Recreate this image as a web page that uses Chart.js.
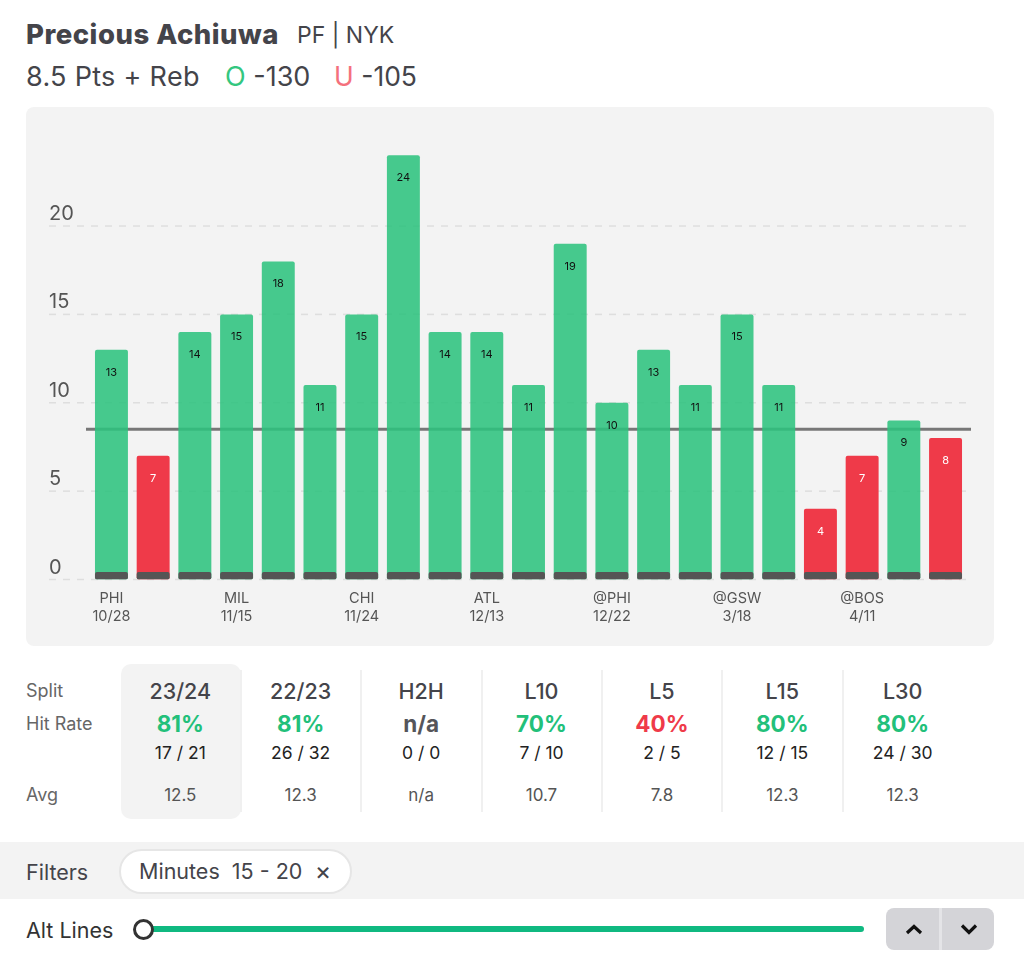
<!DOCTYPE html>
<html>
<head>
<meta charset="utf-8">
<script src="https://cdn.jsdelivr.net/npm/chart.js@4"></script>
<style>
  html, body { margin: 0; padding: 0; background: #fff; }
  body { position: relative; width: 1024px; height: 957px; overflow: hidden; font-family: Inter, sans-serif; color: #44444a; }
  .txt { position: absolute; white-space: pre; line-height: 1; transform: translateY(-50%); }
  .ctr { transform: translate(-50%, -50%); }
  .box { position: absolute; box-sizing: border-box; }
  #panel { left: 26px; top: 107px; width: 968px; height: 539px; background: #f3f3f3; border-radius: 8px; }
  #chartWrap { position: absolute; left: 0; top: 0; width: 968px; height: 539px; }
</style>
</head>
<body>
<div class="txt" style="left:26px;top:34.5px;font-size:27.5px;font-weight:800;letter-spacing:0.5px;">Precious Achiuwa</div>
<div class="txt" style="left:297px;top:35px;font-size:23px;">PF | NYK</div>
<div class="txt" style="left:26px;top:76px;font-size:27px;letter-spacing:0.3px;">8.5 Pts + Reb</div>
<div class="txt" style="left:225px;top:76px;font-size:27px;"><span style="color:#34c77f">O</span> -130</div>
<div class="txt" style="left:334px;top:76px;font-size:26.5px;"><span style="color:#f4707c">U</span> -105</div>

<div class="box" id="panel">
  <div id="chartWrap"><canvas id="propChart"></canvas></div>
</div>

<div class="box" style="left:121px;top:664px;width:120px;height:155px;background:#f3f3f3;border-radius:10px;"></div>
<div class="txt" style="left:26px;top:691px;font-size:18px;color:#666;">Split</div>
<div class="txt" style="left:26px;top:724px;font-size:18px;color:#666;">Hit Rate</div>
<div class="txt" style="left:26px;top:795px;font-size:18px;color:#666;">Avg</div>
<div id="splits"></div>

<div class="box" style="left:0;top:842px;width:1024px;height:57px;background:#f3f3f3;"></div>
<div class="txt" style="left:26px;top:873px;font-size:21.5px;">Filters</div>
<div class="box" style="left:119px;top:849px;width:233px;height:45px;background:#fff;border:2px solid #e6e6e6;border-radius:23px;"></div>
<div class="txt" style="left:139px;top:872px;font-size:21.5px;">Minutes  15 - 20</div>
<div class="txt ctr" style="left:323px;top:871px;font-size:25px;">×</div>

<div class="txt" style="left:26px;top:931px;font-size:21.5px;color:#333;">Alt Lines</div>
<div class="box" style="left:150px;top:926px;width:714px;height:6px;background:#10b981;border-radius:3px;"></div>
<div class="box" style="left:133px;top:919px;width:21px;height:21px;background:#fff;border:3.5px solid #333;border-radius:50%;"></div>
<div class="box" style="left:886px;top:908px;width:108px;height:42px;background:#d4d4d8;border-radius:8px;"></div>
<div class="box" style="left:939px;top:908px;width:3px;height:42px;background:#e4e4e7;"></div>
<svg class="box" style="left:886px;top:908px;" width="108" height="42" fill="none" stroke="#111" stroke-width="3.2">
  <path d="M21 25 L28 18.5 L35 25"/>
  <path d="M76 17.5 L83 24.5 L90 17.5"/>
</svg>

<script>
const categories = [
  ['PHI', '10/28'], '', '', ['MIL', '11/15'], '', '', ['CHI', '11/24'], '', '', ['ATL', '12/13'], '', '',
  ['@PHI', '12/22'], '', '', ['@GSW', '3/18'], '', '', ['@BOS', '4/11'], '', ''
];
const gameValues = [13, 7, 14, 15, 18, 11, 15, 24, 14, 14, 11, 19, 10, 13, 11, 15, 11, 4, 7, 9, 8];
const minuteBase = [0.42, 0.42, 0.42, 0.42, 0.42, 0.42, 0.42, 0.42, 0.42, 0.42, 0.42, 0.42, 0.42, 0.42, 0.42, 0.42, 0.42, 0.42, 0.42, 0.42, 0.42];
const propLine = 8.5;
const yTicks = [0, 5, 10, 15, 20];

const splitNames = ['23/24', '22/23', 'H2H', 'L10', 'L5', 'L15', 'L30'];
const splitRates = ['81%', '81%', 'n/a', '70%', '40%', '80%', '80%'];
const splitCounts = ['17 / 21', '26 / 32', '0 / 0', '7 / 10', '2 / 5', '12 / 15', '24 / 30'];
const splitAvgs = ['12.5', '12.3', 'n/a', '10.7', '7.8', '12.3', '12.3'];

const GREEN = 'rgba(45, 195, 126, 0.88)';
const RED = 'rgb(239, 58, 73)';

// stats table under the chart
const splitsEl = document.getElementById('splits');
function addText(x, y, size, weight, color, text) {
  const el = document.createElement('div');
  el.className = 'txt ctr';
  el.style.cssText = `left:${x}px;top:${y}px;font-size:${size}px;font-weight:${weight};color:${color};`;
  el.textContent = text;
  splitsEl.appendChild(el);
}
splitNames.forEach((name, i) => {
  const x = 180.3 + i * 120.4;
  const rate = splitRates[i];
  let rateColor = '#55555a';
  if (rate !== 'n/a') rateColor = parseInt(rate) >= 50 ? '#22c07a' : '#ef3a49';
  addText(x, 692, 21.5, 500, '#44444a', name);
  addText(x, 724, 22.5, 700, rateColor, rate);
  addText(x, 753, 17.5, 400, '#222', splitCounts[i]);
  addText(x, 795, 17, 400, '#555', splitAvgs[i]);
  if (i < splitNames.length - 1) {
    const div = document.createElement('div');
    div.className = 'box';
    div.style.cssText = `left:${x + 59.5}px;top:670px;width:2px;height:142px;background:#f0f0f0;`;
    splitsEl.appendChild(div);
  }
});

// dashed grid and the prop line go under the translucent bars
const underlayPlugin = {
  id: 'underlay',
  beforeDatasetsDraw(chart) {
    const { ctx, scales: { y } } = chart;
    const left = 23;
    const right = 945;
    ctx.save();
    ctx.strokeStyle = '#dedede';
    ctx.lineWidth = 1.5;
    ctx.setLineDash([7, 7]);
    yTicks.forEach(t => {
      const py = y.getPixelForValue(t);
      ctx.beginPath();
      ctx.moveTo(left, py);
      ctx.lineTo(right, py);
      ctx.stroke();
    });
    ctx.setLineDash([]);
    ctx.strokeStyle = '#777';
    ctx.lineWidth = 3;
    const lineY = y.getPixelForValue(propLine);
    ctx.beginPath();
    ctx.moveTo(60, lineY);
    ctx.lineTo(right, lineY);
    ctx.stroke();
    ctx.restore();
  }
};

// value inside each bar, just under its top
const valueLabelPlugin = {
  id: 'valueLabels',
  afterDatasetsDraw(chart) {
    const { ctx } = chart;
    const bars = chart.getDatasetMeta(0).data;
    ctx.save();
    ctx.font = '11px Inter, sans-serif';
    ctx.textAlign = 'center';
    ctx.textBaseline = 'middle';
    bars.forEach((bar, i) => {
      ctx.fillStyle = gameValues[i] > propLine ? '#111' : '#fff';
      ctx.fillText(gameValues[i], bar.x, bar.y + 22.5);
    });
    ctx.restore();
  }
};

new Chart(document.getElementById('propChart').getContext('2d'), {
  type: 'bar',
  data: {
    labels: categories,
    datasets: [
      {
        data: gameValues,
        backgroundColor: gameValues.map(v => (v > propLine ? GREEN : RED)),
        borderRadius: 2,
        borderSkipped: false,
        order: 2
      },
      {
        data: minuteBase,
        backgroundColor: '#555555',
        borderRadius: 2,
        borderSkipped: false,
        order: 1
      }
    ]
  },
  options: {
    responsive: true,
    maintainAspectRatio: false,
    animation: false,
    grouped: false,
    categoryPercentage: 0.79,
    barPercentage: 1,
    layout: { padding: { left: 23, right: 27.6, top: 39.5, bottom: 0 } },
    plugins: {
      legend: { display: false },
      tooltip: { enabled: false }
    },
    scales: {
      x: {
        grid: { display: false },
        border: { display: false },
        afterFit: scale => { scale.height = 66.5; },
        ticks: {
          autoSkip: false,
          maxRotation: 0,
          minRotation: 0,
          padding: 2,
          color: '#555',
          font: { family: 'Inter, sans-serif', size: 14.5, lineHeight: 1.27 }
        }
      },
      y: {
        min: 0,
        max: 24.5,
        grid: { display: false },
        border: { display: false },
        afterFit: scale => { scale.width = 41.6; },
        ticks: {
          stepSize: 5,
          includeBounds: false,
          crossAlign: 'far',
          labelOffset: -12,
          color: '#555',
          font: { family: 'Inter, sans-serif', size: 20 }
        }
      }
    }
  },
  plugins: [underlayPlugin, valueLabelPlugin]
});
</script>
</body>
</html>
